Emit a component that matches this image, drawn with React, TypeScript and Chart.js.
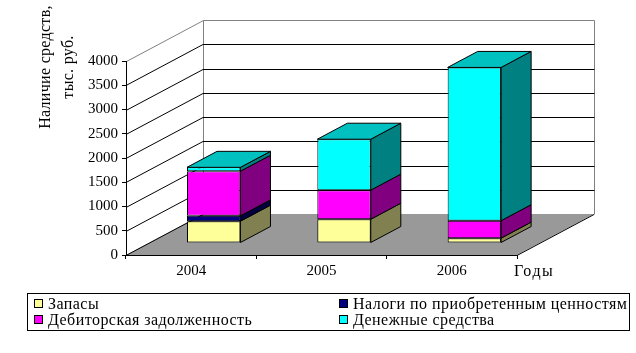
import React, { useEffect, useRef } from "react";
import { Chart, registerables } from "chart.js";

Chart.register(...registerables);

// ---- data ----
const years = ["2004", "2005", "2006"];
const seriesNames = [
  "Запасы",
  "Налоги по приобретенным ценностям",
  "Дебиторская задолженность",
  "Денежные средства",
];
const zapasy = [450, 490, 100];
const nalogi = [110, 0, 0];
const debitorka = [920, 600, 360];
const denezhnye = [80, 1050, 3160];
const yMin = 0;
const yMax = 4000;
const yStep = 500;
const yTitleLines = ["Наличие средств,", "тыс. руб."];
const xTitle = "Годы";

// ---- styles ----
const FONT = "'Liberation Serif', 'Times New Roman', serif";
const frontColors = ["#FFFF99", "#000080", "#FF00FF", "#00FFFF"];
const sideColors = ["#808050", "#000040", "#800080", "#008080"];
const topColors = ["#C0C073", "#000060", "#C000C0", "#00C0C0"];

const DEPTH_X = 77;
const DEPTH_Y = 41;
const RATIO = DEPTH_X / DEPTH_Y;
const BAR_SHIFT_Y = 12;
const BAR_SHIFT_X = BAR_SHIFT_Y * RATIO;
const BAR_DEPTH_Y = 16;
const BAR_DEPTH_X = BAR_DEPTH_Y * RATIO;

const px = (v: number) => Math.round(v) + 0.5;

const pseudo3d = {
  id: "pseudo3d",
  beforeDraw(chart: any) {
    const { ctx, chartArea: a, scales } = chart;
    const ys = scales.y;
    const y0 = ys.getPixelForValue(ys.min);
    const yT = ys.getPixelForValue(ys.max);
    ctx.save();
    // floor
    ctx.fillStyle = "#999999";
    ctx.beginPath();
    ctx.moveTo(a.left, y0);
    ctx.lineTo(a.right, y0);
    ctx.lineTo(a.right + DEPTH_X, y0 - DEPTH_Y);
    ctx.lineTo(a.left + DEPTH_X, y0 - DEPTH_Y);
    ctx.closePath();
    ctx.fill();
    ctx.lineWidth = 1;
    ctx.strokeStyle = "#000000";
    ctx.beginPath();
    ctx.moveTo(a.left, px(y0));
    ctx.lineTo(a.left + DEPTH_X, px(y0 - DEPTH_Y));
    ctx.moveTo(a.right, px(y0));
    ctx.lineTo(a.right + DEPTH_X, px(y0 - DEPTH_Y));
    ctx.stroke();
    // walls
    ctx.strokeStyle = "#808080";
    ctx.beginPath();
    ctx.moveTo(px(a.left), px(yT));
    ctx.lineTo(px(a.left + DEPTH_X), px(yT - DEPTH_Y));
    ctx.lineTo(px(a.right + DEPTH_X), px(yT - DEPTH_Y));
    ctx.lineTo(px(a.right + DEPTH_X), px(y0 - DEPTH_Y));
    ctx.moveTo(px(a.left + DEPTH_X), px(yT - DEPTH_Y));
    ctx.lineTo(px(a.left + DEPTH_X), px(y0 - DEPTH_Y));
    ctx.stroke();
    // gridlines
    ctx.strokeStyle = "#000000";
    ctx.beginPath();
    for (const t of ys.ticks) {
      if (t.value <= ys.min || t.value >= ys.max) continue;
      const y = ys.getPixelForValue(t.value);
      ctx.moveTo(a.left, px(y));
      ctx.lineTo(a.left + DEPTH_X, px(y - DEPTH_Y));
      ctx.lineTo(px(a.right + DEPTH_X), px(y - DEPTH_Y));
    }
    ctx.stroke();
    ctx.restore();
  },
  beforeDatasetsDraw(chart: any) {
    chart.ctx.save();
    chart.ctx.translate(BAR_SHIFT_X, -BAR_SHIFT_Y);
  },
  afterDatasetsDraw(chart: any) {
    const ctx = chart.ctx;
    const n = chart.data.labels.length;
    ctx.lineWidth = 1;
    ctx.strokeStyle = "#000000";
    for (let j = 0; j < n; j++) {
      let topIdx = -1;
      chart.data.datasets.forEach((ds: any, i: number) => {
        if (ds.data[j] > 0) topIdx = i;
      });
      chart.data.datasets.forEach((ds: any, i: number) => {
        if (!(ds.data[j] > 0)) return;
        const el = chart.getDatasetMeta(i).data[j];
        const { x, y, base, width } = el.getProps(["x", "y", "base", "width"], true);
        const l = x - width / 2;
        const r = x + width / 2;
        const t = Math.min(y, base);
        const b = Math.max(y, base);
        ctx.fillStyle = sideColors[i];
        ctx.beginPath();
        ctx.moveTo(r, t);
        ctx.lineTo(r + BAR_DEPTH_X, t - BAR_DEPTH_Y);
        ctx.lineTo(r + BAR_DEPTH_X, b - BAR_DEPTH_Y);
        ctx.lineTo(r, b);
        ctx.closePath();
        ctx.fill();
        ctx.stroke();
        if (i === topIdx) {
          ctx.fillStyle = topColors[i];
          ctx.beginPath();
          ctx.moveTo(l, t);
          ctx.lineTo(l + BAR_DEPTH_X, t - BAR_DEPTH_Y);
          ctx.lineTo(r + BAR_DEPTH_X, t - BAR_DEPTH_Y);
          ctx.lineTo(r, t);
          ctx.closePath();
          ctx.fill();
          ctx.stroke();
        }
      });
    }
    ctx.restore();
  },
};

export default function App() {
  const canvasRef = useRef<HTMLCanvasElement | null>(null);

  useEffect(() => {
    if (!canvasRef.current) return;
    const values = [zapasy, nalogi, debitorka, denezhnye];
    const chart = new Chart(canvasRef.current, {
      type: "bar",
      data: {
        labels: years,
        datasets: values.map((d, i) => ({
          label: seriesNames[i],
          data: d,
          backgroundColor: frontColors[i],
          borderColor: "#000000",
          borderWidth: 1,
          borderSkipped: false,
          barPercentage: 0.41,
          categoryPercentage: 1,
        })),
      },
      options: {
        responsive: true,
        maintainAspectRatio: false,
        animation: false,
        events: [],
        layout: { padding: { left: 0, top: 61, right: 119, bottom: 68 } },
        plugins: { legend: { display: false }, tooltip: { enabled: false } },
        scales: {
          x: {
            stacked: true,
            grid: { offset: true, drawOnChartArea: false, drawTicks: true, tickLength: 4, color: "#000000" },
            border: { display: true, color: "#000000" },
            ticks: { color: "#000000", font: { family: FONT, size: 15 }, padding: 3, maxRotation: 0 },
            afterFit(s: any) {
              s.height = 30;
            },
          },
          y: {
            stacked: true,
            min: yMin,
            max: yMax,
            grid: { drawOnChartArea: false, drawTicks: true, tickLength: 4, color: "#000000" },
            border: { display: true, color: "#000000" },
            ticks: {
              stepSize: yStep,
              color: "#000000",
              font: { family: FONT, size: 15 },
              padding: 4,
              callback: (v: any) => String(v),
            },
            afterFit(s: any) {
              s.width = 126;
            },
          },
        },
      },
      plugins: [pseudo3d],
    });
    return () => chart.destroy();
  }, []);

  const text: React.CSSProperties = { fontFamily: FONT, fontSize: 16, color: "#000", whiteSpace: "nowrap" };

  return (
    <div style={{ position: "fixed", left: 0, top: 0, width: 636, height: 353, background: "#fff", overflow: "hidden" }}>
      <div style={{ position: "absolute", left: 0, top: 0, width: 636, height: 353 }}>
        <canvas ref={canvasRef} />
      </div>
      <div
        style={{
          ...text,
          letterSpacing: "0.3px",
          position: "absolute",
          left: -14,
          top: 44,
          width: 140,
          height: 46,
          lineHeight: "23px",
          textAlign: "center",
          transform: "rotate(-90deg)",
        }}
      >
        {yTitleLines.map((l) => (
          <div key={l}>{l}</div>
        ))}
      </div>
      <div style={{ ...text, letterSpacing: "1.5px", position: "absolute", left: 514, top: 262, lineHeight: "18px" }}>
        {xTitle}
      </div>
      <div
        style={{
          position: "absolute",
          left: 27,
          top: 293,
          width: 601,
          height: 36,
          border: "1px solid #000",
        }}
      >
        {seriesNames.map((name, i) => {
          const col = i === 1 || i === 3 ? 1 : 0;
          const row = i >= 2 ? 1 : 0;
          return (
            <div
              key={name}
              style={{
                ...text,
                letterSpacing: "0.45px",
                position: "absolute",
                left: col ? 311 : 6,
                top: 1 + row * 16,
                height: 17,
                lineHeight: "17px",
                display: "flex",
                alignItems: "center",
              }}
            >
              <span
                style={{
                  display: "inline-block",
                  width: 7,
                  height: 7,
                  border: "1px solid #000",
                  background: frontColors[i],
                  marginRight: 5,
                }}
              />
              {name}
            </div>
          );
        })}
      </div>
    </div>
  );
}
